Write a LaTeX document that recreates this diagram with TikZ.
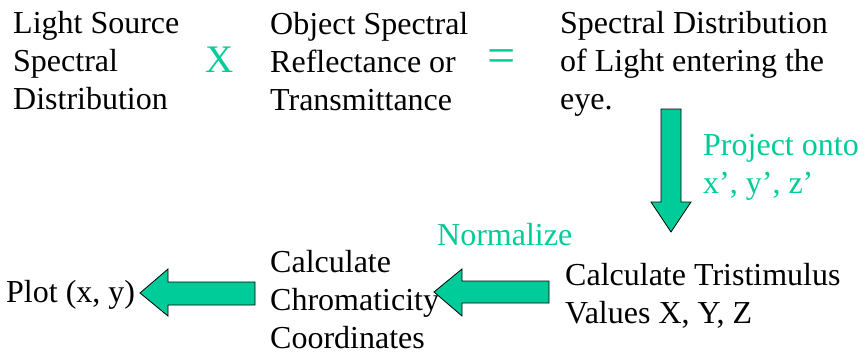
\documentclass[tikz,border=0pt]{standalone}
\usepackage{fontspec}
\setmainfont{Liberation Serif}
\definecolor{tealgreen}{HTML}{00CC99}
\begin{document}
\begin{tikzpicture}[x=1pt,y=-1pt,
  txt/.style={anchor=base west,inner sep=0pt,align=left,font=\fontsize{32}{38}\selectfont},
  gtxt/.style={txt,text=tealgreen},
  fatarrow/.style={fill=tealgreen,draw=black,line width=0.8pt,line join=miter}]
\useasboundingbox[fill=white] (0,0) rectangle (865,354);
% top row (positions are the baselines of the last lines)
\node[txt] (light) at (13,109) {Light Source\\Spectral\\Distribution};
\node[anchor=center,inner sep=0pt,text=tealgreen,font=\fontsize{39}{40}\selectfont] (times) at (220,60) {X};
\node[txt] (object) at (270,110) {Object Spectral\\Reflectance or\\Transmittance};
\node[anchor=center,inner sep=0pt,text=tealgreen,font=\fontsize{50}{50}\selectfont] (equals) at (502,61) {=};
\node[txt] (eye) at (560,109) {Spectral Distribution\\of Light entering the\\eye.};
% labels
\node[gtxt] (project) at (703,193) {Project onto\\x’, y’, z’};
\node[gtxt] (normalize) at (437,245) {Normalize};
% bottom row
\node[txt] (tristim) at (565,323) {Calculate Tristimulus\\Values X, Y, Z};
\node[txt] (chroma) at (270,348) {Calculate\\Chromaticity\\Coordinates};
\node[txt] (plot) at (6,302) {Plot (x, y)};
% fat arrows
\draw[fatarrow] (661,109) -- (681,109) -- (681,202) -- (691,202) -- (671,232) -- (651,202) -- (661,202) -- cycle;
\draw[fatarrow] (549,281) -- (549,303) -- (462,303) -- (462,316) -- (434,292) -- (462,269) -- (462,281) -- cycle;
\draw[fatarrow] (255,282) -- (255,305) -- (168,305) -- (168,316) -- (140,293) -- (168,269) -- (168,282) -- cycle;
\end{tikzpicture}
\end{document}
